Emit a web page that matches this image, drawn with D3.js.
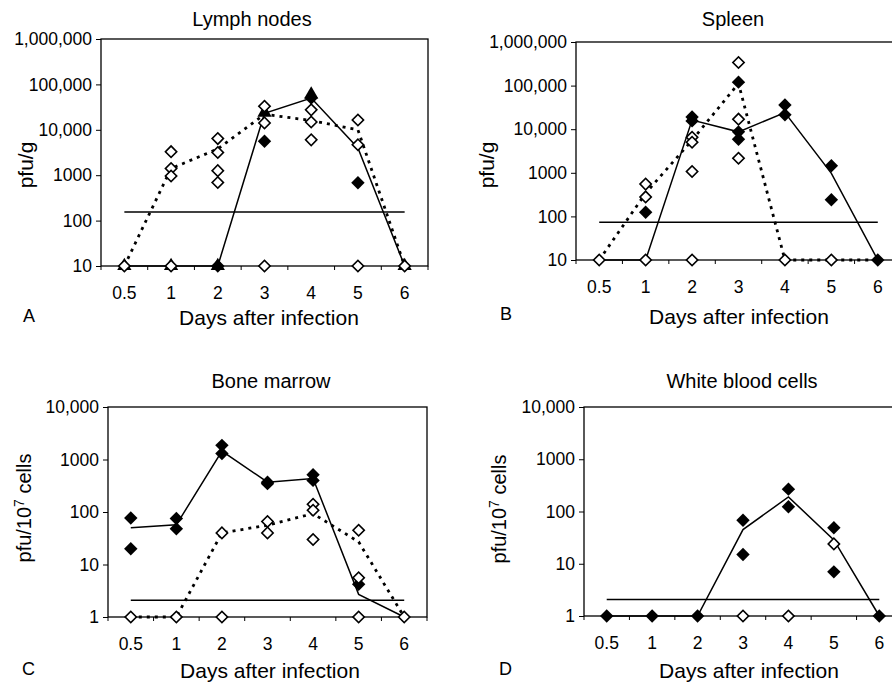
<!DOCTYPE html>
<html>
<head>
<meta charset="utf-8">
<script src="https://cdn.jsdelivr.net/npm/d3@7"></script>
<style>
  body { margin: 0; background: #fff; }
  svg { display: block; font-family: "Liberation Sans", Arial, sans-serif; }
</style>
</head>
<body>
<svg id="chart" width="892" height="683"></svg>
<script>
/* ---------- data ---------- */
const days = ['0.5', '1', '2', '3', '4', '5', '6'];
const tickTissue = [10, 100, 1000, 10000, 100000, 1000000];
const tickCells = [1, 10, 100, 1000, 10000];

// A: lymph nodes (pfu/g)
const lymphOpen = [['0.5', 10], ['1', 3300], ['1', 1410], ['1', 960], ['1', 10], ['2', 6400], ['2', 3150], ['2', 1260], ['2', 690],
  ['3', 33000], ['3', 14200], ['3', 10], ['4', 27500], ['4', 14900], ['4', 6000], ['5', 16500], ['5', 4700], ['5', 10], ['6', 10]];
const lymphFilled = [['2', 10], ['3', 5600], ['4', 50000], ['5', 680]];
const lymphTriangle = [['0.5', 10], ['1', 10], ['2', 10], ['3', 24000], ['4', 60000], ['6', 10]];
const lymphSolid = [10, 10, 10, 23000, 50000, 4000, 10];
const lymphDotted = [10, 1400, 3800, 22000, 16000, 10000, 10];
const lymphLimit = 155;

// B: spleen (pfu/g)
const spleenOpen = [['0.5', 10], ['1', 550], ['1', 280], ['1', 10], ['2', 6500], ['2', 5000], ['2', 1070], ['2', 10],
  ['3', 340000], ['3', 17000], ['3', 2150], ['4', 10], ['5', 10]];
const spleenFilled = [['1', 124], ['2', 19000], ['2', 15500], ['3', 120000], ['3', 8700], ['3', 5900],
  ['4', 36000], ['4', 21500], ['5', 1450], ['5', 240], ['6', 10]];
const spleenSolid = [10, 10, 16200, 8700, 24000, 970, 10];
const spleenDotted = [10, 340, 5600, 112000, 10, 10, 10];
const spleenLimit = 73;

// C: bone marrow (pfu/10^7 cells)
const marrowOpen = [['0.5', 1], ['1', 1], ['2', 40], ['2', 1], ['3', 66], ['3', 40], ['4', 140], ['4', 108], ['4', 30],
  ['5', 45], ['5', 5.6], ['5', 1], ['6', 1]];
const marrowFilled = [['0.5', 77], ['0.5', 20], ['1', 75], ['1', 48], ['2', 1860], ['2', 1300], ['3', 370], ['3', 347],
  ['4', 515], ['4', 400], ['5', 4.2]];
const marrowSolid = [50, 57, 1450, 370, 435, 2.7, 1];
const marrowDotted = [1, 1, 40, 56, 93, 27, 1];
const marrowLimit = 2.08;

// D: white blood cells (pfu/10^7 cells)
const wbcOpen = [['3', 1], ['4', 1], ['5', 24]];
const wbcFilled = [['0.5', 1], ['1', 1], ['2', 1], ['3', 68], ['3', 15], ['4', 268], ['4', 123], ['5', 49], ['5', 7], ['6', 1]];
const wbcSolid = [1, 1, 1, 45, 190, 28.5, 1];
const wbcLimit = 2.08;

/* ---------- layout ---------- */
const panels = [
  { letter: 'A', title: 'Lymph nodes', unit: 'g', left: 101, right: 428, top: 39, bottom: 266, ticks: tickTissue,
    open: lymphOpen, filled: lymphFilled, triangle: lymphTriangle, solid: lymphSolid, dotted: lymphDotted, limit: lymphLimit,
    titleX: 252, titleY: 26, xLabelX: 269, xLabelY: 325, yLabelX: 33, yLabelY: 165, letterX: 23, letterY: 322 },
  { letter: 'B', title: 'Spleen', unit: 'g', left: 576, right: 901, top: 42, bottom: 260, ticks: tickTissue,
    open: spleenOpen, filled: spleenFilled, triangle: [], solid: spleenSolid, dotted: spleenDotted, limit: spleenLimit,
    titleX: 733, titleY: 26, xLabelX: 739, xLabelY: 324, yLabelX: 494, yLabelY: 165, letterX: 500, letterY: 320 },
  { letter: 'C', title: 'Bone marrow', unit: 'cells', left: 108, right: 427, top: 407, bottom: 617, ticks: tickCells,
    open: marrowOpen, filled: marrowFilled, triangle: [], solid: marrowSolid, dotted: marrowDotted, limit: marrowLimit,
    titleX: 271, titleY: 388, xLabelX: 270, xLabelY: 678, yLabelX: 31, yLabelY: 508, letterX: 22, letterY: 675 },
  { letter: 'D', title: 'White blood cells', unit: 'cells', left: 584, right: 902, top: 407, bottom: 616, ticks: tickCells,
    open: wbcOpen, filled: wbcFilled, triangle: [], solid: wbcSolid, dotted: null, limit: wbcLimit,
    titleX: 742, titleY: 388, xLabelX: 749, xLabelY: 678, yLabelX: 506, yLabelY: 509, letterX: 499, letterY: 675 }
];

const svg = d3.select('#chart');
const fmtTick = v => v >= 10000 ? d3.format(',')(v) : String(v);
const diamond = d3.symbol().type(d3.symbolSquare);
const triangle = d3.symbol().type(d3.symbolTriangle).size(88);

function drawPanel(p) {
  const g = svg.append('g');
  const x = d3.scaleBand().domain(days).range([p.left, p.right]);
  const cx = d => x(d) + x.bandwidth() / 2;
  const y = d3.scaleLog().domain([p.ticks[0], p.ticks[p.ticks.length - 1]]).range([p.bottom, p.top]);

  // frame
  g.append('rect')
    .attr('x', p.left).attr('y', p.top)
    .attr('width', p.right - p.left).attr('height', p.bottom - p.top)
    .attr('fill', 'none').attr('stroke', '#000').attr('stroke-width', 1.3);

  // y axis
  const ya = g.append('g')
    .attr('transform', `translate(${p.left},0)`)
    .call(d3.axisLeft(y).tickValues(p.ticks).tickFormat(fmtTick).tickSize(5).tickPadding(4).tickSizeOuter(0));
  ya.select('.domain').remove();
  ya.selectAll('text').attr('font-size', 17.5).attr('font-family', null).attr('fill', '#000');

  // x axis: labels at category centres, ticks at category edges
  const xa = g.append('g')
    .attr('transform', `translate(0,${p.bottom})`)
    .call(d3.axisBottom(x).tickSize(0).tickPadding(21));
  xa.select('.domain').remove();
  xa.selectAll('text').attr('font-size', 17.5).attr('font-family', null).attr('fill', '#000');
  g.append('g').selectAll('line')
    .data(days.map(d => x(d)).concat([x.range()[1]]))
    .join('line')
    .attr('x1', d => d).attr('x2', d => d)
    .attr('y1', p.bottom).attr('y2', p.bottom + 4)
    .attr('stroke', '#000').attr('stroke-width', 1);

  // detection limit
  g.append('line')
    .attr('x1', cx(days[0])).attr('x2', cx(days[days.length - 1]))
    .attr('y1', y(p.limit)).attr('y2', y(p.limit))
    .attr('stroke', '#000').attr('stroke-width', 1.5);

  const line = d3.line().x((v, i) => cx(days[i])).y(v => y(v));
  g.append('path').attr('d', line(p.solid))
    .attr('fill', 'none').attr('stroke', '#000').attr('stroke-width', 1.5);
  if (p.dotted) {
    g.append('path').attr('d', line(p.dotted))
      .attr('fill', 'none').attr('stroke', '#000').attr('stroke-width', 2.8)
      .attr('stroke-dasharray', '3 5');
  }

  // markers
  g.append('g').selectAll('path')
    .data(p.triangle).join('path')
    .attr('d', triangle)
    .attr('transform', d => `translate(${cx(d[0])},${y(d[1])})`)
    .attr('fill', '#000');
  g.append('g').selectAll('path')
    .data(p.filled).join('path')
    .attr('d', diamond.size(90)())
    .attr('transform', d => `translate(${cx(d[0])},${y(d[1])}) rotate(45)`)
    .attr('fill', '#000');
  g.append('g').selectAll('path')
    .data(p.open).join('path')
    .attr('d', diamond.size(64)())
    .attr('transform', d => `translate(${cx(d[0])},${y(d[1])}) rotate(45)`)
    .attr('fill', '#fff').attr('stroke', '#000').attr('stroke-width', 1.6);

  // texts
  g.append('text').attr('x', p.titleX).attr('y', p.titleY)
    .attr('text-anchor', 'middle').attr('font-size', 20).text(p.title);
  g.append('text').attr('x', p.xLabelX).attr('y', p.xLabelY)
    .attr('text-anchor', 'middle').attr('font-size', 21).text('Days after infection');
  g.append('text').attr('x', p.letterX).attr('y', p.letterY)
    .attr('font-size', 18).text(p.letter);

  const yl = g.append('text')
    .attr('transform', `translate(${p.yLabelX},${p.yLabelY}) rotate(-90)`)
    .attr('text-anchor', 'middle').attr('font-size', 21);
  if (p.unit === 'g') {
    yl.text('pfu/g');
  } else {
    yl.attr('font-size', 20);
    yl.append('tspan').text('pfu/10');
    yl.append('tspan').attr('font-size', 14).attr('dy', -7).text('7');
    yl.append('tspan').attr('dy', 7).text(' cells');
  }
}

panels.forEach(drawPanel);
</script>
</body>
</html>
